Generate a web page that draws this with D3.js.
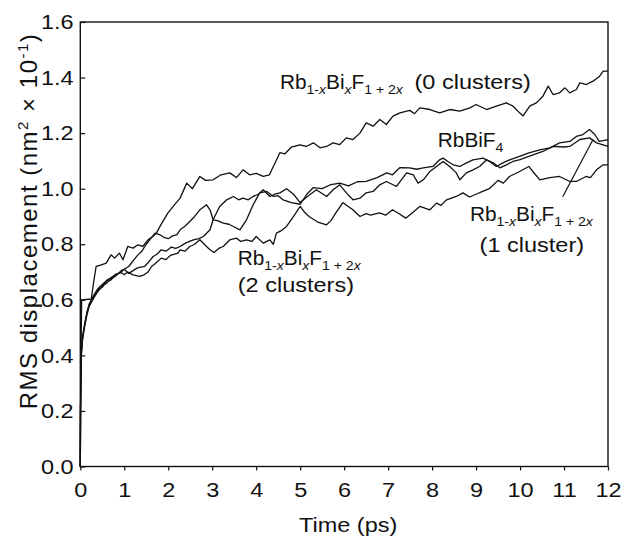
<!DOCTYPE html>
<html>
<head>
<meta charset="utf-8">
<script src="https://cdn.jsdelivr.net/npm/d3@7"></script>
<style>
  html, body { margin: 0; padding: 0; background: #fff; }
  svg { display: block; }
  text { font-family: "Liberation Sans", Arial, Helvetica, sans-serif; fill: #111; }
</style>
</head>
<body>
<svg id="chart" width="621" height="536"></svg>
<script>
// ---------------- DATA ----------------
const xTicks = [0,1,2,3,4,5,6,7,8,9,10,11,12];
const yTicks = [0.0,0.2,0.4,0.6,0.8,1.0,1.2,1.4,1.6];

// Rb1-xBixF1+2x (0 clusters)
const zeroClusters = [[0,0],[0.01,0.3],[0.03,0.6],[0.25,0.603],[0.3,0.66],[0.36,0.72],[0.48,0.726],[0.59,0.732],[0.70,0.762],[0.78,0.75],[0.89,0.768],[0.97,0.744],[1.08,0.792],[1.2,0.786],[1.31,0.798],[1.42,0.792],[1.54,0.816],[1.65,0.828],[1.73,0.84],[1.85,0.875],[1.99,0.912],[2.14,0.942],[2.27,0.966],[2.42,1.02],[2.55,1.0],[2.72,1.044],[2.85,1.03],[3.02,1.032],[3.2,1.05],[3.4,1.057],[3.55,1.04],[3.7,1.068],[3.85,1.05],[4.0,1.055],[4.16,1.044],[4.3,1.05],[4.42,1.09],[4.54,1.13],[4.65,1.125],[4.8,1.15],[4.99,1.158],[5.14,1.152],[5.3,1.165],[5.45,1.147],[5.6,1.152],[5.75,1.165],[5.9,1.159],[6.05,1.183],[6.2,1.177],[6.36,1.2],[6.5,1.237],[6.66,1.225],[6.81,1.249],[6.96,1.231],[7.11,1.261],[7.27,1.273],[7.49,1.282],[7.6,1.27],[7.72,1.291],[7.95,1.285],[8.17,1.273],[8.4,1.285],[8.63,1.279],[8.86,1.291],[9.0,1.303],[9.24,1.285],[9.46,1.297],[9.69,1.309],[9.84,1.297],[9.99,1.273],[10.07,1.262],[10.22,1.297],[10.37,1.309],[10.52,1.333],[10.64,1.369],[10.75,1.339],[10.9,1.345],[11.02,1.363],[11.13,1.345],[11.28,1.357],[11.36,1.381],[11.51,1.375],[11.66,1.387],[11.81,1.405],[11.89,1.423],[12,1.423]];

// RbBiF4
const rbbif4 = [[0,0],[0.005,0.2],[0.02,0.40],[0.05,0.46],[0.1,0.51],[0.15,0.55],[0.2,0.585],[0.3,0.615],[0.4,0.64],[0.5,0.655],[0.6,0.67],[0.7,0.68],[0.8,0.69],[0.93,0.70],[1.0,0.71],[1.1,0.72],[1.2,0.74],[1.3,0.76],[1.4,0.775],[1.5,0.80],[1.6,0.82],[1.7,0.84],[1.8,0.835],[1.9,0.825],[2.0,0.82],[2.1,0.83],[2.2,0.835],[2.27,0.852],[2.38,0.865],[2.49,0.882],[2.6,0.9],[2.72,0.924],[2.87,0.942],[2.95,0.924],[3.02,0.888],[3.12,0.885],[3.25,0.876],[3.38,0.872],[3.48,0.864],[3.63,0.852],[3.78,0.888],[3.93,0.942],[4.08,0.985],[4.24,0.99],[4.39,0.972],[4.5,0.975],[4.61,0.96],[4.8,0.95],[5.0,0.944],[5.15,0.98],[5.3,1.004],[5.5,1.0],[5.7,1.015],[5.9,1.02],[6.1,1.01],[6.3,1.025],[6.5,1.026],[6.75,1.04],[6.97,1.057],[7.1,1.05],[7.27,1.076],[7.49,1.075],[7.65,1.07],[7.8,1.075],[8.02,1.08],[8.17,1.104],[8.25,1.11],[8.36,1.098],[8.48,1.086],[8.63,1.08],[8.78,1.093],[8.93,1.104],[9.16,1.11],[9.31,1.098],[9.46,1.08],[9.61,1.093],[9.76,1.104],[9.99,1.116],[10.2,1.129],[10.45,1.14],[10.68,1.147],[10.9,1.165],[11.13,1.17],[11.28,1.188],[11.43,1.195],[11.58,1.213],[11.7,1.195],[11.8,1.17],[12,1.177]];

// Rb1-xBixF1+2x (1 cluster)
const oneCluster = [[0,0],[0.005,0.18],[0.02,0.39],[0.05,0.455],[0.1,0.505],[0.15,0.545],[0.2,0.575],[0.3,0.605],[0.4,0.63],[0.5,0.65],[0.6,0.66],[0.7,0.675],[0.8,0.685],[0.93,0.705],[1.0,0.71],[1.1,0.695],[1.2,0.705],[1.3,0.715],[1.46,0.72],[1.55,0.735],[1.65,0.755],[1.75,0.765],[1.84,0.78],[1.95,0.775],[2.07,0.79],[2.17,0.785],[2.27,0.792],[2.4,0.805],[2.57,0.816],[2.7,0.82],[2.8,0.828],[2.95,0.852],[3.02,0.888],[3.17,0.936],[3.33,0.96],[3.48,0.972],[3.6,0.96],[3.7,0.966],[3.82,0.96],[3.93,0.972],[4.05,0.98],[4.16,0.996],[4.31,0.972],[4.42,0.98],[4.54,0.985],[4.69,1.0],[4.85,0.98],[5.0,0.95],[5.15,0.97],[5.37,0.996],[5.6,0.972],[5.75,0.996],[5.9,1.014],[6.05,0.985],[6.2,0.96],[6.36,0.966],[6.5,0.985],[6.66,0.99],[6.81,1.014],[6.96,1.026],[7.19,1.008],[7.42,1.057],[7.57,1.05],[7.68,1.02],[7.8,1.032],[7.95,1.062],[8.1,1.08],[8.25,1.098],[8.4,1.08],[8.55,1.057],[8.63,1.032],[8.78,1.057],[8.93,1.068],[9.08,1.08],[9.24,1.104],[9.39,1.093],[9.54,1.075],[9.69,1.086],[9.84,1.098],[10.0,1.105],[10.2,1.116],[10.52,1.134],[10.75,1.152],[11.0,1.15],[11.13,1.152],[11.36,1.177],[11.58,1.183],[11.74,1.165],[11.89,1.158],[12,1.152]];

// Rb1-xBixF1+2x (2 clusters)
const twoClusters = [[0,0],[0.005,0.21],[0.02,0.41],[0.05,0.465],[0.1,0.515],[0.15,0.555],[0.2,0.58],[0.3,0.61],[0.4,0.635],[0.5,0.645],[0.6,0.668],[0.7,0.672],[0.8,0.692],[0.93,0.698],[1.0,0.69],[1.08,0.70],[1.2,0.69],[1.35,0.684],[1.45,0.69],[1.54,0.70],[1.62,0.72],[1.7,0.73],[1.84,0.75],[1.95,0.745],[2.05,0.76],[2.22,0.768],[2.27,0.78],[2.38,0.775],[2.49,0.792],[2.6,0.8],[2.72,0.816],[2.87,0.792],[2.95,0.78],[3.04,0.77],[3.15,0.785],[3.25,0.792],[3.4,0.816],[3.55,0.822],[3.65,0.81],[3.78,0.816],[3.9,0.81],[4.0,0.828],[4.16,0.804],[4.31,0.816],[4.39,0.80],[4.46,0.84],[4.58,0.85],[4.69,0.864],[4.85,0.90],[5.0,0.936],[5.1,0.915],[5.2,0.90],[5.4,0.88],[5.6,0.87],[5.7,0.885],[5.8,0.91],[5.97,0.95],[6.1,0.935],[6.2,0.924],[6.36,0.90],[6.5,0.91],[6.6,0.905],[6.8,0.913],[6.95,0.905],[7.1,0.924],[7.25,0.91],[7.4,0.894],[7.6,0.92],[7.72,0.936],[7.95,0.924],[8.1,0.948],[8.2,0.94],[8.33,0.96],[8.55,0.972],[8.7,0.985],[8.85,0.97],[9.0,0.98],[9.15,0.99],[9.3,1.0],[9.5,1.03],[9.62,1.02],[9.76,1.044],[9.99,1.062],[10.2,1.08],[10.3,1.06],[10.45,1.032],[10.68,1.04],[10.9,1.044],[11.13,1.026],[11.28,1.026],[11.5,1.044],[11.6,1.04],[11.74,1.068],[11.89,1.086],[12,1.086]];

const seriesList = [zeroClusters, rbbif4, oneCluster, twoClusters];

// Pointer line for the "1 cluster" label (data coordinates)
const pointer = [[10.97, 0.971], [11.66, 1.177]];

// ---------------- LAYOUT ----------------
const W = 621, H = 536;
const margin = {left: 80.3, right: 13, top: 22, bottom: 69.5};
const SX = 1.12;  // horizontal stretch of plain lettering
const FX = 1.04;  // horizontal stretch of chemical formulas

const svg = d3.select("#chart");
const x = d3.scaleLinear().domain([0, 12]).range([margin.left, W - margin.right]);
const y = d3.scaleLinear().domain([0, 1.6]).range([H - margin.bottom, margin.top]);

// frame
svg.append("rect")
  .attr("x", x(0)).attr("y", y(1.6))
  .attr("width", x(12) - x(0)).attr("height", y(0) - y(1.6))
  .attr("fill", "none").attr("stroke", "#111").attr("stroke-width", 1.4);

// axes
const fmtY = d3.format(".1f");
const gx = svg.append("g")
  .attr("transform", `translate(0,${y(0)})`)
  .call(d3.axisBottom(x).tickValues(xTicks).tickFormat(d3.format("d"))
        .tickSizeInner(4).tickSizeOuter(0).tickPadding(11.5));
const gy = svg.append("g")
  .attr("transform", `translate(${x(0)},0)`)
  .call(d3.axisLeft(y).tickValues(yTicks).tickFormat(fmtY)
        .tickSizeInner(-5).tickSizeOuter(0).tickPadding(6));
[gx, gy].forEach(g => {
  g.select(".domain").remove();
  g.selectAll(".tick line").attr("stroke", "#111").attr("stroke-width", 1.2);
  g.selectAll(".tick text")
    .style("font-size", "21px")
    .attr("fill", "#111")
    .attr("transform", `scale(${SX},1)`);
});
gx.selectAll(".tick text").attr("x", 0);

// curves
const line = d3.line().x(d => x(d[0])).y(d => y(d[1]));
svg.append("g").selectAll("path").data(seriesList).join("path")
  .attr("d", line)
  .attr("fill", "none").attr("stroke", "#111")
  .attr("stroke-width", 1.3).attr("stroke-linejoin", "round");

// pointer line
svg.append("path").attr("d", line(pointer))
  .attr("fill", "none").attr("stroke", "#111").attr("stroke-width", 1.2);

// ---------------- LABELS ----------------
function label(tx, ty, size, sx) {
  const g = svg.append("g").attr("transform", `translate(${x(tx)},${y(ty)}) scale(${sx},1)`);
  return g.append("text").attr("x", 0).attr("y", 0).style("font-size", size + "px");
}
function formula(tx, ty) {
  const t = label(tx, ty, 20, FX);
  const sub = (s, it) => t.append("tspan").attr("font-size", "13.5px").attr("dy", 0)
      .style("font-style", it ? "italic" : "normal").text(s);
  t.append("tspan").text("Rb");
  sub("1-").attr("dy", 5);
  sub("x", true);
  t.append("tspan").attr("dy", -5).text("Bi");
  sub("x", true).attr("dy", 5);
  t.append("tspan").attr("dy", -5).text("F");
  sub("1 + 2").attr("dy", 5);
  sub("x", true);
  return t;
}

formula(4.54, 1.359);
label(7.6, 1.359, 21, SX).text("(0 clusters)");
{
  const t = label(8.13, 1.151, 20, FX);
  t.append("tspan").text("RbBiF");
  t.append("tspan").attr("font-size", "13.5px").attr("dy", 5).text("4");
}
formula(3.58, 0.726);
label(3.58, 0.629, 21, SX).text("(2 clusters)");
formula(8.86, 0.885);
label(9.08, 0.773, 21, SX).text("(1 cluster)");

// axis titles
svg.append("g").attr("transform", `translate(${(x(0)+x(12))/2 + 4},532) scale(${SX},1)`)
  .append("text").attr("text-anchor", "middle").style("font-size", "21px").text("Time (ps)");

{
  const g = svg.append("g").attr("transform", `translate(37,221) rotate(-90)`);
  const t = g.append("text").attr("text-anchor", "middle").style("font-size", "24px")
    .style("letter-spacing", "1.5px");
  t.append("tspan").text("RMS displacement (nm");
  t.append("tspan").attr("font-size", "15px").attr("dy", -9).text("2");
  t.append("tspan").attr("dy", 9).text(" \u00d7 10");
  t.append("tspan").attr("font-size", "15px").attr("dy", -9).text("-1");
  t.append("tspan").attr("dy", 9).text(")");
}
</script>
</body>
</html>
